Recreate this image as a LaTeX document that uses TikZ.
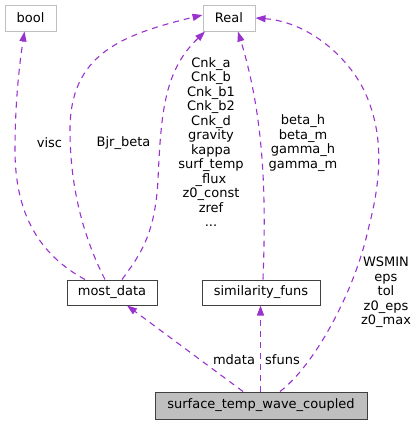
\documentclass[tikz,border=0pt]{standalone}
\usepackage{fontspec}
\setmainfont{DejaVu Sans}
\usetikzlibrary{arrows.meta}
\definecolor{edgecol}{HTML}{9A32CD}
\definecolor{lightbd}{HTML}{BFBFBF}
\definecolor{darkbd}{HTML}{404040}
\begin{document}
\begin{tikzpicture}[x=1pt,y=-1pt,
  every node/.style={font=\fontsize{13}{14.5}\selectfont},
  extbox/.style={draw=lightbd,line width=1pt,fill=white,inner sep=0pt,minimum height=26pt},
  clsbox/.style={draw=darkbd,line width=1pt,fill=white,inner sep=0pt,minimum height=25pt},
  mainbox/.style={draw=darkbd,line width=1pt,fill=lightbd,inner sep=0pt,minimum height=27pt},
  dep/.style={draw=edgecol,line width=1.1pt,dash pattern=on 6pt off 5pt,-{Triangle[length=10pt,width=7pt,fill=edgecol]}},
  lbl/.style={align=center,inner sep=0pt}]
\useasboundingbox (0,0) rectangle (416,424);

\node[extbox,minimum width=51pt] (bool) at (30.5,18) {bool};
\node[extbox,minimum width=52pt] (real) at (229,18) {Real};
\node[clsbox,minimum width=90pt] (md) at (112,292.5) {most\_data};
\node[clsbox,minimum width=118pt] (sf) at (261,292.5) {similarity\_funs};
\node[mainbox,minimum width=212pt] (st) at (261,405.5) {surface\_temp\_wave\_coupled};

% most_data -> bool
\draw[dep] ([xshift=-27pt]md.north) .. controls (40,255) and (15,215) .. (15,150)
  .. controls (15,100) and (20,60) .. ([xshift=-6pt]bool.south);
% most_data -> Real (Bjr_beta)
\draw[dep] ([xshift=-7pt]md.north) .. controls (90,250) and (70,200) .. (70,130)
  .. controls (70,55) and (120,35) .. ([yshift=3pt]real.west);
% most_data -> Real (Cnk...)
\draw[dep] ([xshift=10pt]md.north) .. controls (140,255) and (155,235) .. (158,180)
  .. controls (161,110) and (165,70) .. ([xshift=-24pt]real.south);
% similarity_funs -> Real
\draw[dep] ([xshift=2pt]sf.north) .. controls (266,200) and (265,120) .. ([xshift=9pt]real.south);
% stwc -> Real
\draw[dep] ([xshift=19pt]st.north) .. controls (315,365) and (355,290) .. (368,230)
  .. controls (380,185) and (385,140) .. (367,97)
  .. controls (352,60) and (310,22) .. (real.east);
% stwc -> most_data
\draw[dep] ([xshift=-18pt]st.north) -- ([xshift=15pt]md.south);
% stwc -> similarity_funs
\draw[dep] ([xshift=-0.5pt]st.north) -- ([xshift=-0.5pt]sf.south);

\node[lbl] (l1) at (49.5,143) {visc};
\node[lbl] (l2) at (123.5,143) {Bjr\_beta};
\node[lbl] (l3) at (211,142) {Cnk\_a\\Cnk\_b\\Cnk\_b1\\Cnk\_b2\\Cnk\_d\\gravity\\kappa\\surf\_temp\\\_flux\\z0\_const\\zref\\...};
\node[lbl] (l4) at (303,143) {beta\_h\\beta\_m\\gamma\_h\\gamma\_m};
\node[lbl] (l5) at (386,292.5) {WSMIN\\eps\\tol\\z0\_eps\\z0\_max};
\node[lbl] (l6) at (234,360) {mdata};
\node[lbl] (l7) at (282.5,360) {sfuns};
\end{tikzpicture}
\end{document}
